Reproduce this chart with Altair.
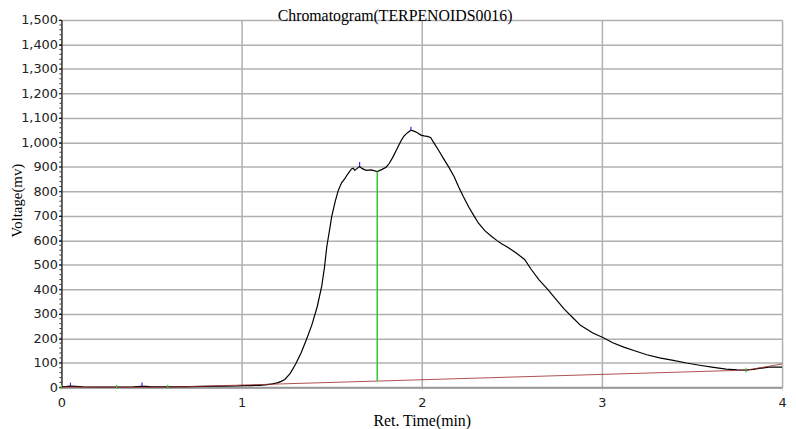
import altair as alt
import pandas as pd

# main chromatogram trace (min, mV)
times = [0.00, 0.03, 0.05, 0.08, 0.12, 0.20, 0.30, 0.40, 0.44, 0.47, 0.50, 0.60, 0.70, 0.80, 0.90,
         0.98, 1.00, 1.05, 1.10, 1.143, 1.17, 1.198, 1.22, 1.24, 1.27, 1.30, 1.33, 1.36, 1.39, 1.42,
         1.445, 1.46, 1.473, 1.49, 1.50, 1.52, 1.537, 1.555, 1.573, 1.59, 1.61, 1.62, 1.628, 1.64,
         1.655, 1.67, 1.692, 1.72, 1.753, 1.78, 1.802, 1.82, 1.839, 1.86, 1.885, 1.90, 1.921, 1.94,
         1.96, 1.976, 1.995, 2.013, 2.03, 2.049, 2.07, 2.095, 2.12, 2.15, 2.18, 2.205, 2.23, 2.26,
         2.29, 2.315, 2.35, 2.388, 2.42, 2.443, 2.47, 2.498, 2.53, 2.571, 2.608, 2.65, 2.699, 2.75,
         2.791, 2.84, 2.883, 2.95, 3.011, 3.06, 3.121, 3.19, 3.249, 3.32, 3.396, 3.47, 3.542, 3.62,
         3.689, 3.75, 3.799, 3.84, 3.872, 3.927, 4.00]
volts = [3, 4, 5, 4, 2, 1, 1, 2, 4, 4, 2, 2, 3, 4, 5,
         6, 7, 7, 8, 11, 14, 18, 24, 32, 57, 95, 140, 195, 255, 330,
         414, 490, 575, 650, 697, 760, 805, 835, 852, 872, 892, 895, 886, 893,
         902, 893, 886, 888, 881, 890, 899, 915, 939, 970, 1007, 1025, 1040, 1050,
         1045, 1040, 1030, 1027, 1025, 1020, 995, 966, 935, 899, 860, 818, 780, 737,
         700, 670, 640, 616, 598, 586, 575, 562, 545, 522, 481, 440, 400, 355,
         319, 283, 252, 222, 201, 182, 164, 147, 133, 120, 110, 99, 90, 81,
         74, 71, 70, 73, 77, 82, 82]

# integration baseline segments (red)
base_t1 = [0.00, 0.306, 0.59, 3.80]
base_v1 = [1, 0, 0, 70]
base_t2 = [0.306, 0.59, 3.80, 4.00]
base_v2 = [0, 0, 70, 95]

# peak top markers (blue)
top_t = [0.05, 0.447, 1.655, 1.94]
top_v1 = [4, 4, 903, 1050]
top_v2 = [19, 19, 920, 1064]

# peak start / end markers (green)
edge_t = [0.00, 0.306, 0.59, 3.80]
edge_v1 = [-6, -6, -6, 60]
edge_v2 = [10, 10, 10, 80]

# peak split drop line (green)
drop_t = [1.753]
drop_v1 = [25]
drop_v2 = [881]

title_text = ["Chromatogram(TERPENOIDS0016)"]
x_ticks = [0, 1, 2, 3, 4]
y_ticks = list(range(0, 1501, 100))
y_minor = list(range(0, 1501, 20))

xs = alt.Scale(domain=[0, 4], nice=False, zero=False)
ys = alt.Scale(domain=[0, 1500], nice=False)

xaxis = alt.Axis(
    values=x_ticks, format="d", title="Ret. Time(min)",
    titleFont="Liberation Serif", titleFontSize=16, titleFontWeight="normal",
    titleColor="black", titleX=364, titleY=39, titleAlign="center",
    titleBaseline="alphabetic",
    labelFont="DejaVu Sans", labelFontSize=13, labelColor="#222222",
    labelFlush=False, labelPadding=6, tickSize=3, tickColor="#d8d8d8",
    domainColor="#999999", domainWidth=2,
    grid=True, gridColor="#b0b0b0", gridWidth=1.5)
yaxis = alt.Axis(
    values=y_ticks, format=",d", title="Voltage(mv)",
    titleFont="Liberation Serif", titleFontSize=15, titleFontWeight="normal",
    titleColor="black", titleX=-45, titleY=182, titleAngle=270,
    titleAlign="center", titleBaseline="middle",
    labelFont="DejaVu Sans", labelFontSize=13, labelColor="#222222",
    labelPadding=1, tickSize=3, tickColor="black",
    domainColor="black", domainWidth=1,
    grid=True, gridColor="#b0b0b0", gridWidth=1.5)

curve_df = pd.DataFrame({"t": times, "v": volts})
base_df = pd.DataFrame({"t": base_t1, "v": base_v1, "t2": base_t2, "v2": base_v2})
top_df = pd.DataFrame({"t": top_t, "v": top_v1, "v2": top_v2})
edge_df = pd.DataFrame({"t": edge_t, "v": edge_v1, "v2": edge_v2})
drop_df = pd.DataFrame({"t": drop_t, "v": drop_v1, "v2": drop_v2})
title_df = pd.DataFrame({"title": title_text})
minor_df = pd.DataFrame({"v": y_minor})

X = alt.X("t:Q", scale=xs, axis=xaxis)
Y = alt.Y("v:Q", scale=ys, axis=yaxis)

curve = alt.Chart(curve_df).mark_line(color="black", strokeWidth=1.2).encode(x=X, y=Y)

minor = alt.Chart(minor_df).mark_rule(color="#333333", strokeWidth=1).encode(
    y=Y, x=alt.value(-2), x2=alt.value(0),
)

base = alt.Chart(base_df).mark_rule(color="#a03030", strokeWidth=1, opacity=0.85).encode(
    x=X, x2="t2:Q", y=Y, y2="v2:Q",
)

drop = alt.Chart(drop_df).mark_rule(color="#3cc43c", strokeWidth=1.6).encode(
    x=X, y=Y, y2="v2:Q",
)

tops = alt.Chart(top_df).mark_rule(color="#2a2aff", strokeWidth=1.2).encode(
    x=X, y=Y, y2="v2:Q",
)

edges = alt.Chart(edge_df).mark_rule(color="#3cc43c", strokeWidth=1.2).encode(
    x=X, y=Y, y2="v2:Q",
)

title = alt.Chart(title_df).mark_text(
    font="Liberation Serif", fontSize=16, color="black",
    align="center", baseline="alphabetic",
).encode(x=alt.value(337), y=alt.value(0.5), text="title:N")

chart = alt.layer(curve, minor, base, drop, tops, edges, title).properties(
    width=728, height=371,
    autosize=alt.AutoSizeParams(type="none"),
    padding={"left": 54, "top": 10, "right": 6, "bottom": 40},
).configure_view(strokeOpacity=0).configure(background="white")

chart.save("out.html", embed_options={"renderer": "svg", "actions": False})
